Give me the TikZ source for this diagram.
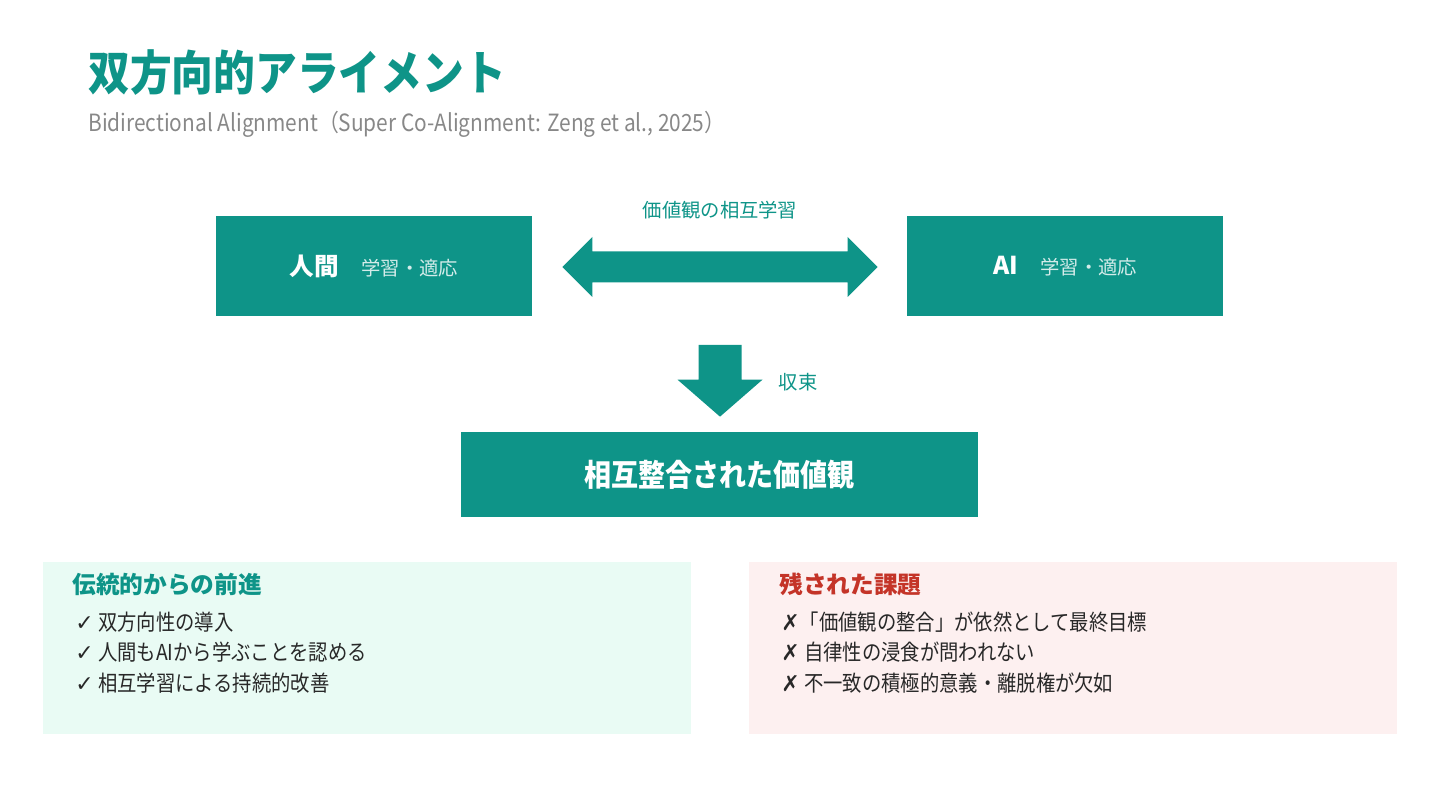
\documentclass[tikz,border=0pt]{standalone}
\usepackage{fontspec}
\setmainfont{Noto Sans CJK JP}
\newfontfamily\narrowfont{Noto Sans CJK JP}[FakeStretch=0.88]
\newfontfamily\markfont{DejaVu Sans}
\usetikzlibrary{positioning,calc}
\definecolor{tealmain}{RGB}{14,148,136}
\definecolor{subgray}{RGB}{136,136,136}
\definecolor{mintbg}{RGB}{233,251,244}
\definecolor{pinkbg}{RGB}{253,240,240}
\definecolor{warnred}{RGB}{196,52,40}
\definecolor{itemtext}{RGB}{40,40,40}

\begin{document}
\begin{tikzpicture}[
  x=0.02cm, y=-0.02cm,
  box/.style={fill=tealmain, text=white, inner sep=0pt,
    minimum width=6.32cm, minimum height=2cm},
  panel/.style={anchor=north west, inner sep=0pt,
    minimum width=12.96cm, minimum height=3.44cm},
  lbl/.style={text=tealmain, font=\fontsize{11}{13}\selectfont},
  item/.style={anchor=west, text=itemtext, inner sep=0pt,
    font=\narrowfont\fontsize{12.5}{15}\selectfont},
  head/.style={anchor=west, inner sep=0pt, font=\bfseries\fontsize{13.5}{16}\selectfont}
]
\useasboundingbox (0,0) rectangle (1440,810);

% title
\node[anchor=west, inner sep=0pt, text=tealmain, font=\narrowfont\bfseries\fontsize{27}{32}\selectfont]
  (title) at (88,73) {双方向的アライメント};
\node[anchor=west, inner sep=0pt, text=subgray, font=\narrowfont\fontsize{13.5}{16}\selectfont]
  (sub) at (88,124) {Bidirectional Alignment（Super Co-Alignment: Zeng et al., 2025）};

% top row
\node[box] (human) at (374,266) {{\bfseries\fontsize{14}{16}\selectfont 人間}\hspace{0.45cm}{\color{white!82!tealmain}\fontsize{11}{13}\selectfont 学習・適応}};
\node[box] (ai) at (1065,266) {{\bfseries\fontsize{14}{16}\selectfont AI}\hspace{0.45cm}{\color{white!82!tealmain}\fontsize{11}{13}\selectfont 学習・適応}};
\node[lbl] (mutual) at (720,210) {価値観の相互学習};

\coordinate (la) at ($(human.east)+(30,1)$);
\coordinate (ra) at ($(ai.west)+(-29,1)$);
\fill[tealmain] (la) -- ($(la)+(30,-30)$) -- ($(la)+(30,-15.5)$) -- ($(ra)+(-30,-15.5)$)
  -- ($(ra)+(-30,-30)$) -- (ra) -- ($(ra)+(-30,30)$) -- ($(ra)+(-30,15.5)$)
  -- ($(la)+(30,15.5)$) -- ($(la)+(30,30)$) -- cycle;

% convergence
\node[box, minimum width=10.34cm, minimum height=1.7cm,
  font=\narrowfont\bfseries\fontsize{17.5}{20}\selectfont] (result) at (719.5,474.5) {相互整合された価値観};
\coordinate (dtop) at (720,345);
\coordinate (tip) at ($(result.north)+(0.5,-15)$);
\fill[tealmain] ($(dtop)+(-21.5,0)$) -- ($(dtop)+(21.5,0)$) -- ($(tip)+(21.5,-37)$)
  -- ($(tip)+(42.5,-37)$) -- (tip) -- ($(tip)+(-42.5,-37)$) -- ($(tip)+(-21.5,-37)$) -- cycle;
\node[lbl] (conv) at (798,382) {収束};

% bottom panels
\node[panel, fill=mintbg] (gain) at (43,562) {};
\node[panel, fill=pinkbg] (issue) at (749,562) {};

\node[head, text=tealmain] (gainhd) at (72,584) {伝統的からの前進};
\node[item] (g1) at (75,622) {{\markfont ✓} 双方向性の導入};
\node[item] (g2) at (75,652) {{\markfont ✓} 人間もAIから学ぶことを認める};
\node[item] (g3) at (75,683) {{\markfont ✓} 相互学習による持続的改善};

\node[head, text=warnred] (issuehd) at (779,584) {残された課題};
\node[item] (i1) at (781,622) {{\markfont ✗}「価値観の整合」が依然として最終目標};
\node[item] (i2) at (781,652) {{\markfont ✗} 自律性の浸食が問われない};
\node[item] (i3) at (781,683) {{\markfont ✗} 不一致の積極的意義・離脱権が欠如};
\end{tikzpicture}
\end{document}
